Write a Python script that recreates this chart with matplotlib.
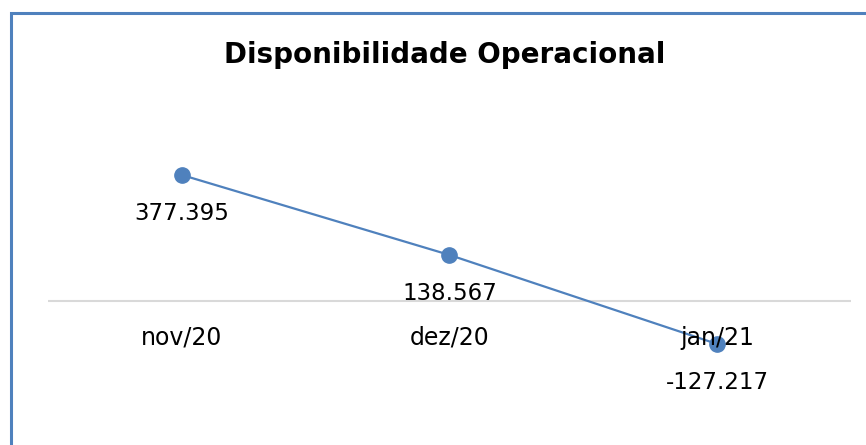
import matplotlib
matplotlib.use('Agg')
import matplotlib.pyplot as plt
from matplotlib.patches import Rectangle

meses = ['nov/20', 'dez/20', 'jan/21']
valores = [377.395, 138.567, -127.217]
rotulos = ['377.395', '138.567', '-127.217']

azul = '#4F81BD'

fig = plt.figure(figsize=(8.66, 4.45), dpi=100)
ax = fig.add_axes([48/866, 0, 803/866, 1])

x = list(range(len(meses)))
ax.plot(x, valores, color=azul, lw=1.6, marker='o', markersize=11, zorder=3)
ax.set_xlim(-0.5, 2.5)
ax.set_ylim(-428.7, 899.7)
ax.axhline(0, color='#D9D9D9', lw=1.5, zorder=1)
ax.axis('off')

for i in x:
    ax.annotate(meses[i], (i, 0), xytext=(0, -26), textcoords='offset points',
                ha='center', va='center', fontsize=17, color='black')
    ax.annotate(rotulos[i], (i, valores[i]), xytext=(0, -28), textcoords='offset points',
                ha='center', va='center', fontsize=16.5, color='black')

fig.text(445/866, 1-55/445, 'Disponibilidade Operacional', ha='center', va='center',
         fontsize=20, fontweight='bold', color='black')

# moldura azul (só esquerda e topo visíveis)
fig.patches.append(Rectangle((10.5/866, -0.2), 1.5, 1.2 - 13/445,
                             transform=fig.transFigure, fill=False,
                             edgecolor=azul, lw=2.2, clip_on=False))

fig.savefig('out.png', dpi=100)
